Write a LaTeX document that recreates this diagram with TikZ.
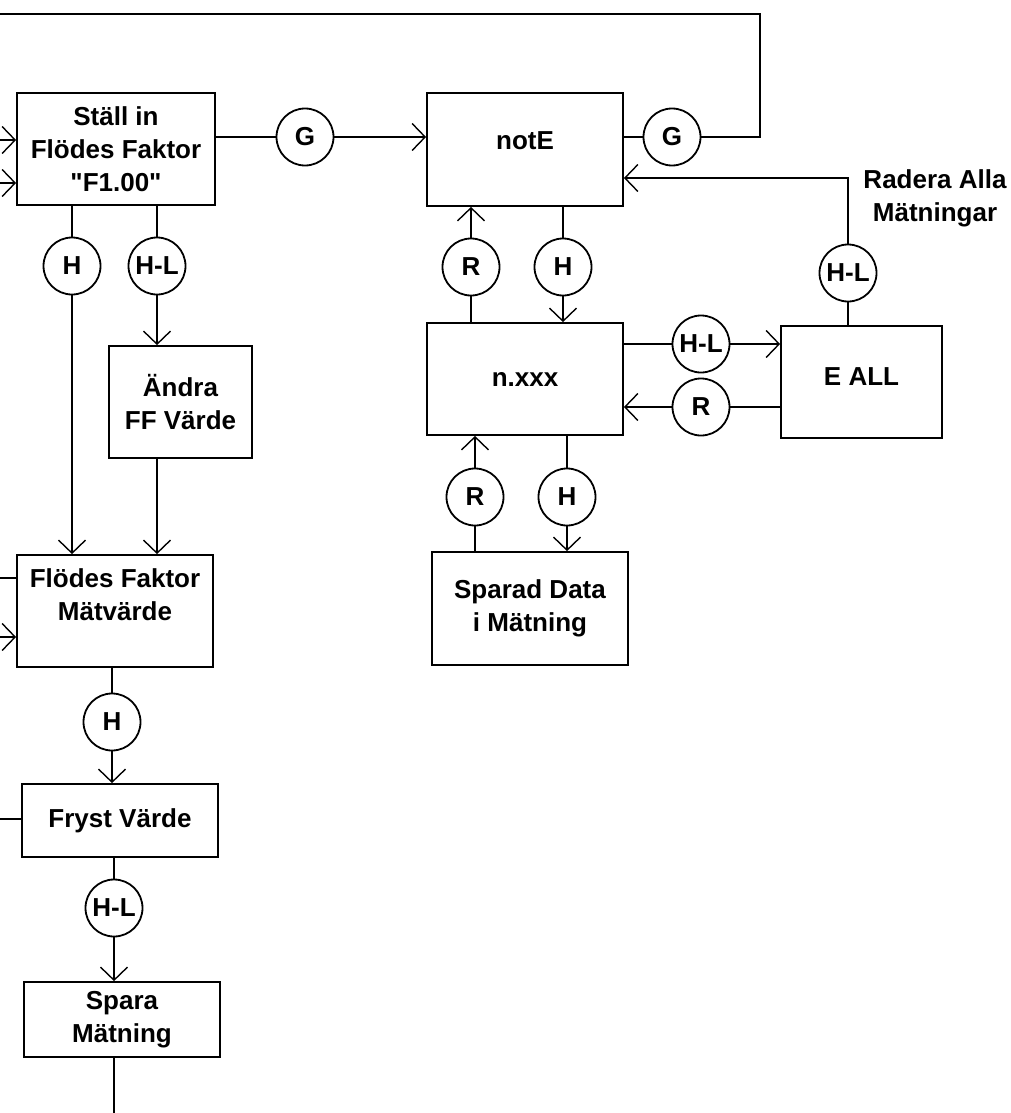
\documentclass[tikz,border=0pt]{standalone}
\usepackage{fontspec}
\setmainfont{Liberation Sans}[Ligatures=TeXOff]
\usepackage{tikz}
\usetikzlibrary{arrows.meta,positioning}
\tikzset{ruta/.style={rectangle,draw,line width=1.8pt,inner sep=0pt,align=center,font=\bfseries\fontsize{26}{33}\selectfont}}
\tikzset{knapp/.style={circle,draw,line width=1.8pt,minimum size=57pt,inner sep=0pt,font=\bfseries\fontsize{26}{33}\selectfont}}

\begin{document}
\begin{tikzpicture}[x=1pt,y=-1pt,>={Straight Barb[length=13pt,width=27pt,line width=1.4pt]},line width=1.8pt]
    \useasboundingbox (0,0) rectangle (1010,1113);

    \node[ruta,minimum width=198pt,minimum height=112pt] (setff) at (116,149) {Ställ in\\Flödes Faktor\\"F1.00"};
    \node[ruta,minimum width=196pt,minimum height=113pt,text depth=17pt] (note) at (525,149.5) {notE};
    \node[ruta,minimum width=196pt,minimum height=112pt] (nxxx) at (525,379) {n.xxx};
    \node[ruta,minimum width=161pt,minimum height=112pt,text depth=10pt] (eall) at (861.5,382) {E ALL};
    \node[ruta,minimum width=196pt,minimum height=113pt] (sparad) at (530,608.5) {Sparad Data\\i Mätning};
    \node[ruta,minimum width=143pt,minimum height=112pt] (andra) at (180.5,402) {Ändra\\FF Värde};
    \node[ruta,minimum width=196pt,minimum height=112pt] (ffmv) at (115,611) {Flödes Faktor\\Mätvärde\\\mbox{}};
    \node[ruta,minimum width=196pt,minimum height=73pt] (fryst) at (120,820.5) {Fryst Värde};
    \node[ruta,minimum width=196pt,minimum height=75pt] (spara) at (122,1019.5) {Spara\\Mätning};
    \node[align=center,font=\bfseries\fontsize{26}{33}\selectfont] (radera) at (935,198) {Radera Alla\\Mätningar};

    \node[knapp] (g1) at (305,137) {G};
    \node[knapp] (g2) at (672,137) {G};
    \node[knapp] (h1) at (72,266) {H};
    \node[knapp] (hl1) at (157,266) {H-L};
    \node[knapp] (r1) at (471,267) {R};
    \node[knapp] (h2) at (563,267) {H};
    \node[knapp] (hl2) at (848,273) {H-L};
    \node[knapp] (hl3) at (701,344) {H-L};
    \node[knapp] (r2) at (701,407) {R};
    \node[knapp] (r3) at (475,497) {R};
    \node[knapp] (h3) at (567,497) {H};
    \node[knapp] (h4) at (112,722) {H};
    \node[knapp] (hl4) at (114,908) {H-L};

    \coordinate (topp) at (760,14);
    \coordinate (ut0) at (0,14);
    \coordinate (in1) at (0,140);
    \coordinate (in2) at (0,183);
    \coordinate (ut1) at (0,578);
    \coordinate (in3) at (0,637);
    \coordinate (ut2) at (0,819);
    \coordinate (ut3) at (114,1113);

    % top row
    \draw [->] (in1) to [] (in1 -| setff.west);
    \draw [->] (in2) to [] (in2 -| setff.west);
    \draw [] (setff.east |- g1) to [] (g1);
    \draw [->] (g1) to [] (g1 -| note.west);
    \draw [] (note.east |- g2) to [] (g2);
    \draw [] (g2) -| (topp) to [] (ut0);
    \draw [->] (hl2) |- ([yshift=-28.5pt]note.east);
    \draw [] (hl2) to [] (hl2 |- eall.north);

    % notE - n.xxx - E ALL
    \draw [->] (r1) to [] (r1 |- note.south);
    \draw [] (r1) to [] (r1 |- nxxx.north);
    \draw [] (h2 |- note.south) to [] (h2);
    \draw [->] (h2) to [] (h2 |- nxxx.north);
    \draw [] (nxxx.east |- hl3) to [] (hl3);
    \draw [->] (hl3) to [] (hl3 -| eall.west);
    \draw [] (eall.west |- r2) to [] (r2);
    \draw [->] (r2) to [] (r2 -| nxxx.east);
    \draw [->] (r3) to [] (r3 |- nxxx.south);
    \draw [] (r3) to [] (r3 |- sparad.north);
    \draw [] (h3 |- nxxx.south) to [] (h3);
    \draw [->] (h3) to [] (h3 |- sparad.north);

    % left column
    \draw [] (h1 |- setff.south) to [] (h1);
    \draw [->] (h1) to [] (h1 |- ffmv.north);
    \draw [] (hl1 |- setff.south) to [] (hl1);
    \draw [->] (hl1) to [] (hl1 |- andra.north);
    \draw [->] (hl1 |- andra.south) to [] (hl1 |- ffmv.north);
    \draw [] (ffmv.west |- ut1) to [] (ut1);
    \draw [->] (in3) to [] (in3 -| ffmv.west);
    \draw [] (h4 |- ffmv.south) to [] (h4);
    \draw [->] (h4) to [] (h4 |- fryst.north);
    \draw [] (fryst.west |- ut2) to [] (ut2);
    \draw [] (hl4 |- fryst.south) to [] (hl4);
    \draw [->] (hl4) to [] (hl4 |- spara.north);
    \draw [] (spara.south -| ut3) to [] (ut3);
\end{tikzpicture}
\end{document}
